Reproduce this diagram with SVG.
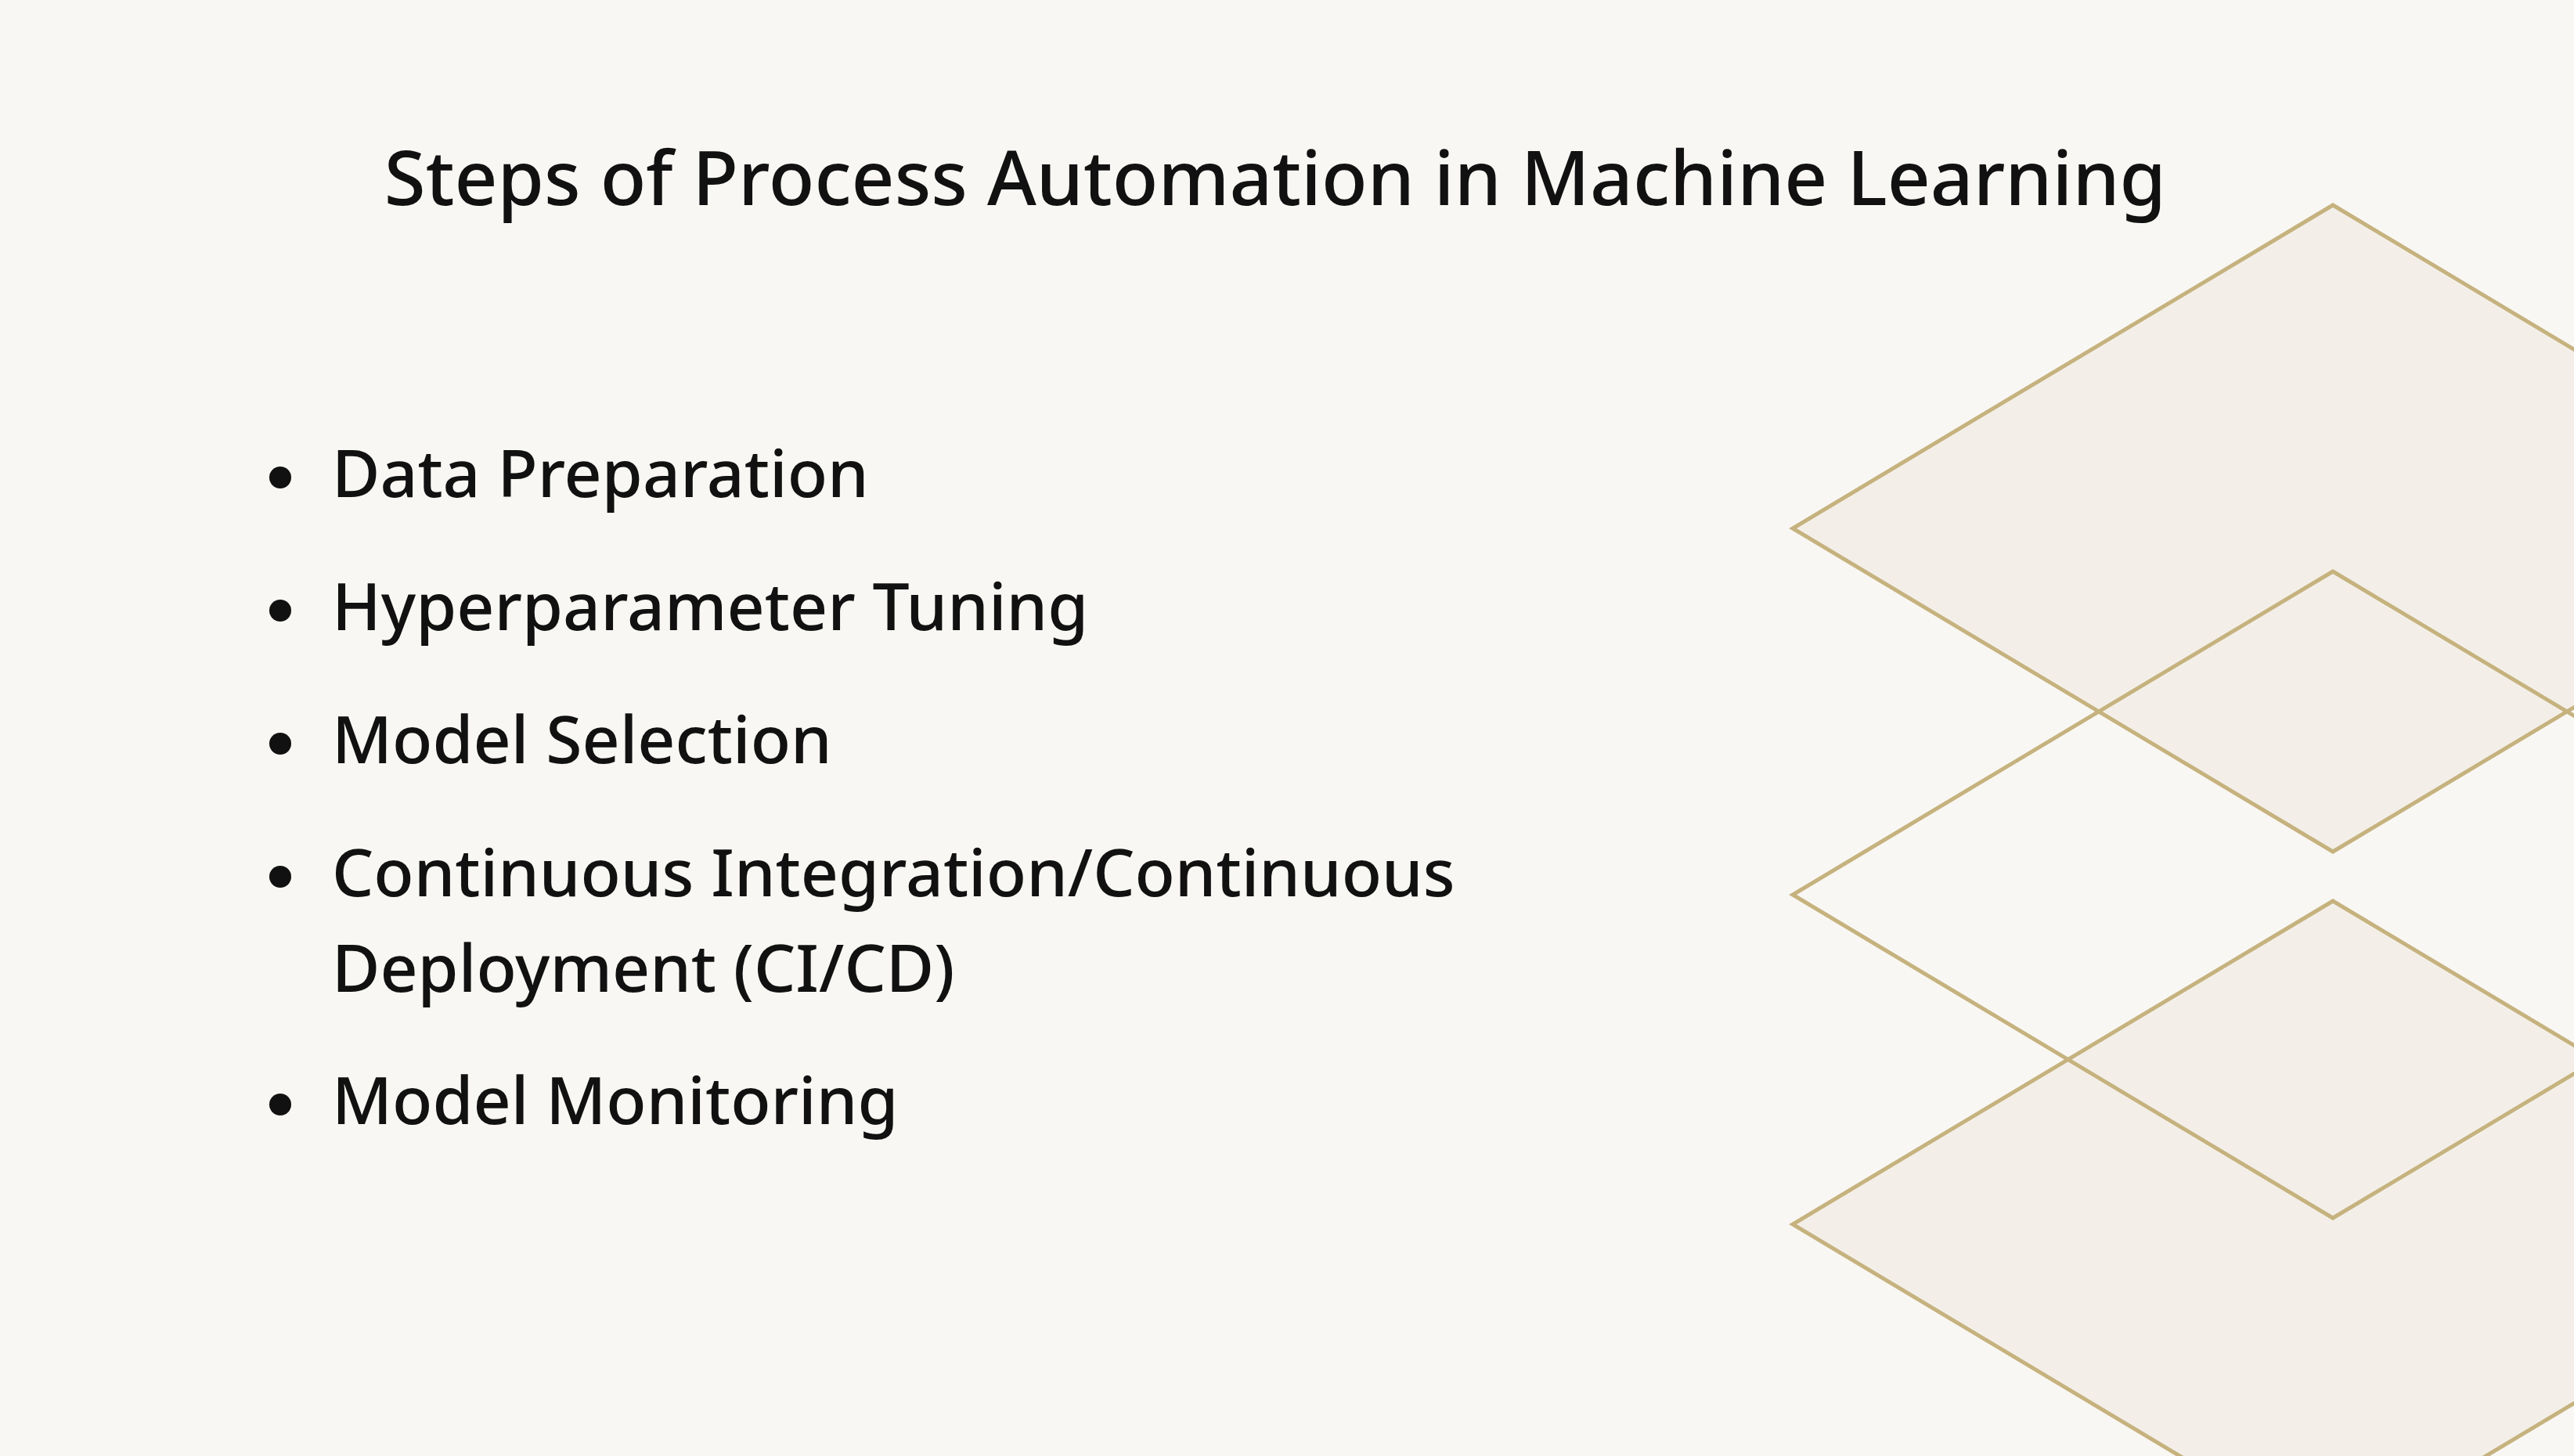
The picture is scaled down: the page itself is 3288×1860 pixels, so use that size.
<svg xmlns="http://www.w3.org/2000/svg" width="3288" height="1860" viewBox="0 0 3288 1860">
<style>
.t{font-family:"Noto Sans","Open Sans",sans-serif;fill:#111;font-weight:500}
.b{font-size:84px}
.d{stroke:#C6B27E;stroke-width:5;stroke-linejoin:miter}
</style>
<rect width="3288" height="1860" fill="#F8F7F3"/>
<g id="shapes">
<polygon class="d" fill="#F3EFE8" points="2980,262 3670,675 2980,1088 2290,675"/>
<polygon class="d" fill="#F3EFE8" points="2980,1151 3670,1564 2980,1977 2290,1564"/>
<polygon class="d" fill="none" points="2980,730 3670,1143 2980,1556 2290,1143"/>
</g>
<text id="title" class="t" x="1629" y="262" font-size="96" text-anchor="middle">Steps of Process Automation in Machine Learning</text>
<g id="bullets">
<circle cx="358" cy="610" r="14" fill="#111"/>
<text class="t b" x="424" y="635">Data Preparation</text>
<circle cx="358" cy="780" r="14" fill="#111"/>
<text class="t b" x="424" y="805">Hyperparameter Tuning</text>
<circle cx="358" cy="950" r="14" fill="#111"/>
<text class="t b" x="424" y="975">Model Selection</text>
<circle cx="358" cy="1120" r="14" fill="#111"/>
<text class="t b" x="424" y="1145">Continuous Integration/Continuous</text>
<text class="t b" x="424" y="1267">Deployment (CI/CD)</text>
<circle cx="358" cy="1411" r="14" fill="#111"/>
<text class="t b" x="424" y="1436">Model Monitoring</text>
</g>
</svg>
